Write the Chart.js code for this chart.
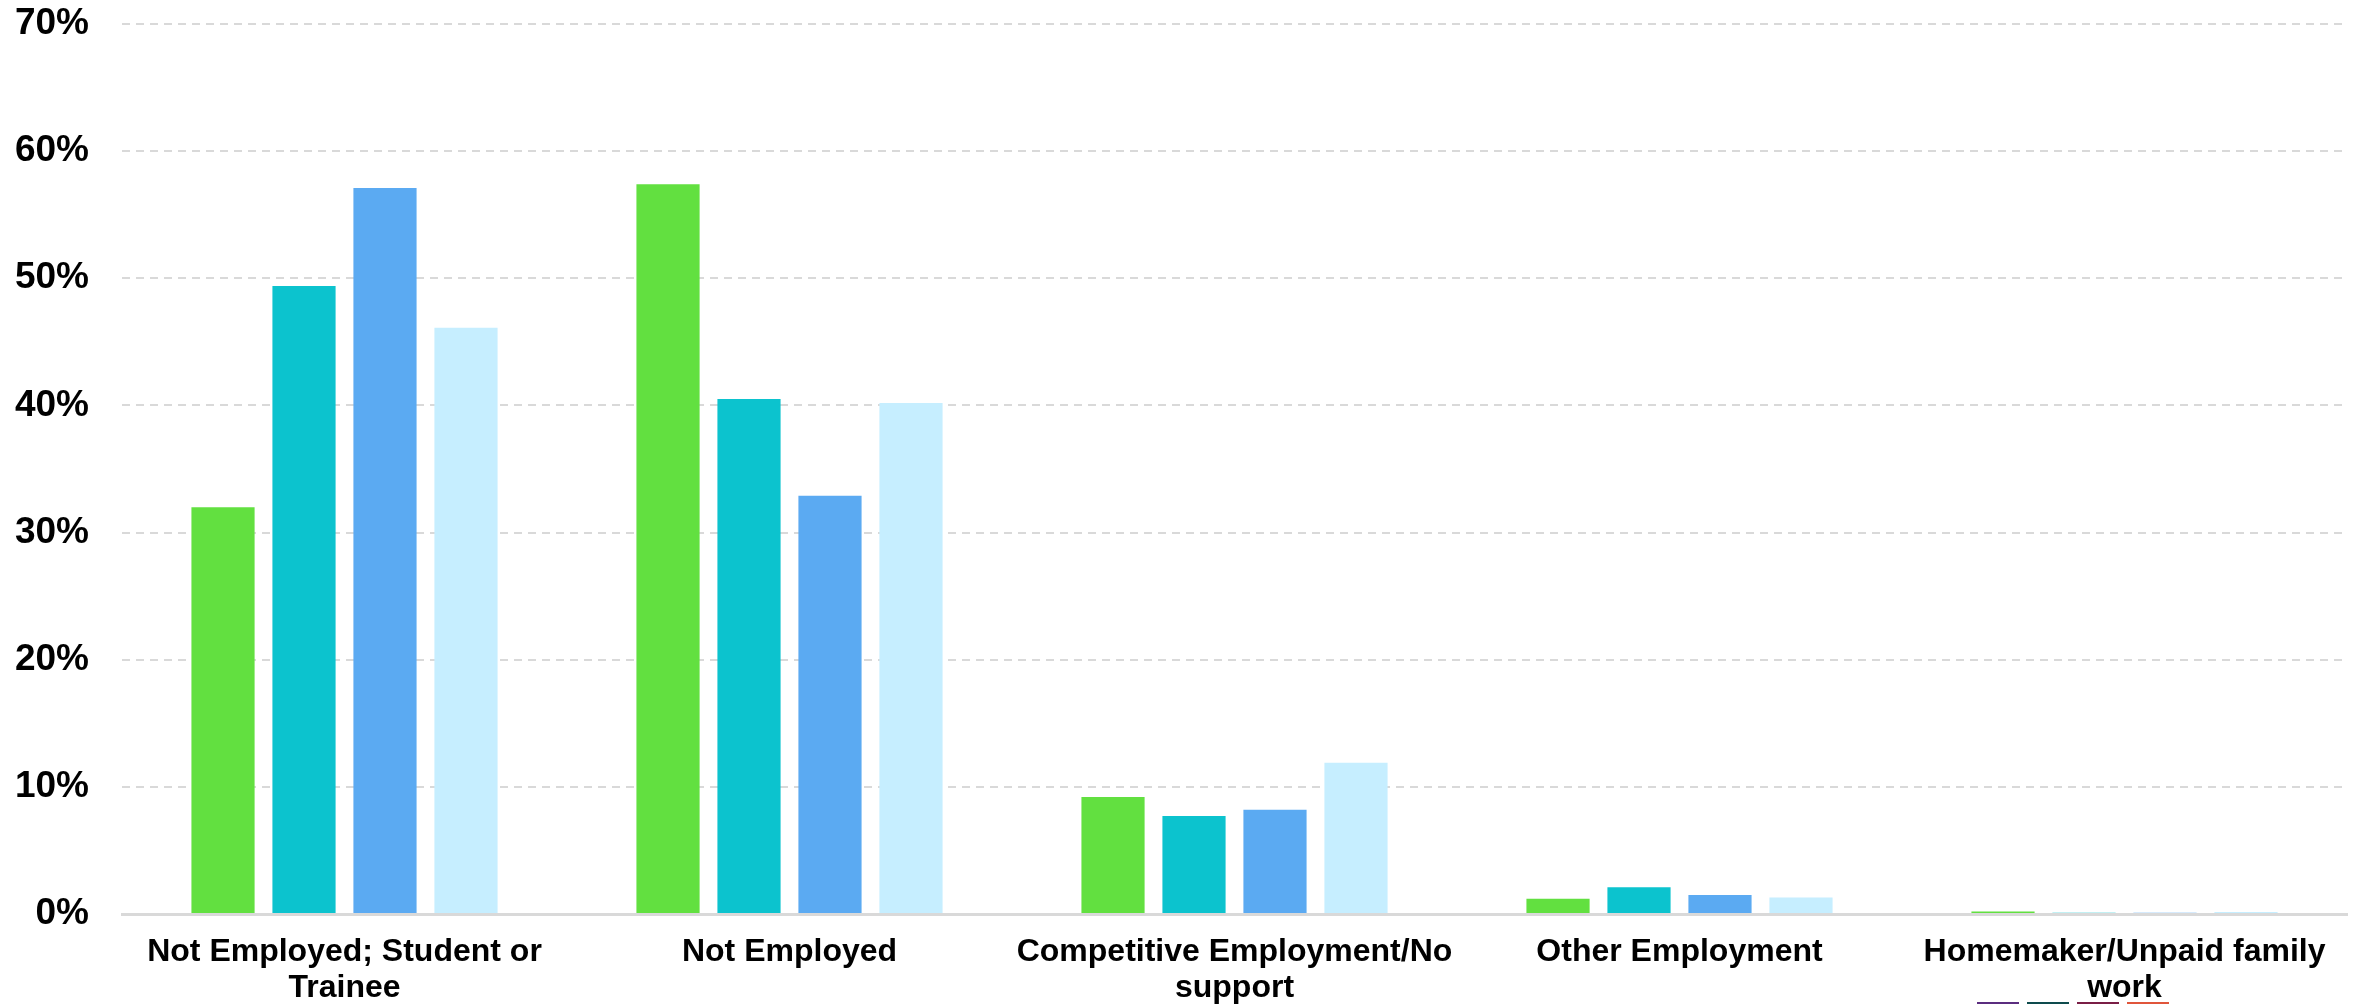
<!DOCTYPE html>
<html>
<head>
<meta charset="utf-8">
<title>Employment status</title>
<script src="https://cdn.jsdelivr.net/npm/chart.js@4.4.0/dist/chart.umd.min.js"></script>
<style>
  html, body { margin: 0; padding: 0; background: #fff; overflow: hidden; }
  #wrap { position: relative; width: 2354px; height: 1004px; }
  #swatches { position: absolute; left: 1977px; top: 1002px; display: flex; gap: 8px; }
  #swatches span { display: block; width: 42px; height: 12px; }
</style>
</head>
<body>
<div id="wrap">
  <canvas id="chart"></canvas>
  <!-- legend below the plot, cut off by the picture edge -->
  <div id="swatches">
    <span style="background:#5b2d7f"></span>
    <span style="background:#0e4b4d"></span>
    <span style="background:#7a1e46"></span>
    <span style="background:#e0553b"></span>
  </div>
</div>
<script>
// categories (x axis)
const categories = [
  ['Not Employed; Student or', 'Trainee'],
  'Not Employed',
  ['Competitive Employment/No', 'support'],
  'Other Employment',
  ['Homemaker/Unpaid family', 'work']
];

// series values, in percent
const seriesA = [32.0, 57.4, 9.2, 1.2, 0.2];
const seriesB = [49.4, 40.5, 7.7, 2.1, 0.1];
const seriesC = [57.1, 32.9, 8.2, 1.5, 0.1];
const seriesD = [46.1, 40.2, 11.9, 1.3, 0.15];

// y ticks
const yTicks = [0, 10, 20, 30, 40, 50, 60, 70];

const colors = ['#62e040', '#0cc3ce', '#5baaf2', '#c6eeff'];

const ctx = document.getElementById('chart').getContext('2d');
new Chart(ctx, {
  type: 'bar',
  data: {
    labels: categories,
    datasets: [seriesA, seriesB, seriesC, seriesD].map((d, i) => ({
      label: 'Series ' + (i + 1),
      data: d,
      backgroundColor: colors[i],
      borderWidth: 0,
      categoryPercentage: 0.728,
      barPercentage: 0.78
    }))
  },
  options: {
    responsive: true,
    maintainAspectRatio: false,
    animation: false,
    layout: {
      padding: { left: 15, right: 7, top: 0, bottom: 0 }
    },
    plugins: {
      legend: { display: false },
      tooltip: { enabled: false }
    },
    scales: {
      x: {
        grid: { display: false, drawTicks: false },
        border: { display: true, color: '#d9d9d9', width: 3 },
        afterFit: (scale) => {
          // fixed axis band, no extra side padding from the long labels
          scale.height = 90;
          scale.paddingLeft = 0;
          scale.paddingRight = 0;
        },
        ticks: {
          color: '#000',
          padding: 21,
          maxRotation: 0,
          autoSkip: false,
          font: { family: 'Liberation Sans, Arial, sans-serif', size: 32, weight: 'bold', lineHeight: 1.1 }
        }
      },
      y: {
        min: 0,
        max: 70,
        afterBuildTicks: (scale) => {
          scale.ticks = yTicks.map(v => ({ value: v }));
        },
        afterFit: (scale) => {
          scale.width = 107;
          scale.paddingTop = 24;
          scale.paddingBottom = 0;
        },
        grid: {
          drawTicks: false,
          color: (c) => c.tick && c.tick.value === 0 ? 'rgba(0,0,0,0)' : '#d9d9d9',
          lineWidth: 2
        },
        border: { display: false, dash: [8, 6] },
        ticks: {
          color: '#000',
          padding: 33,
          callback: (v) => v + '%',
          font: { family: 'Liberation Sans, Arial, sans-serif', size: 37, weight: 'bold' }
        }
      }
    }
  }
});
</script>
</body>
</html>
